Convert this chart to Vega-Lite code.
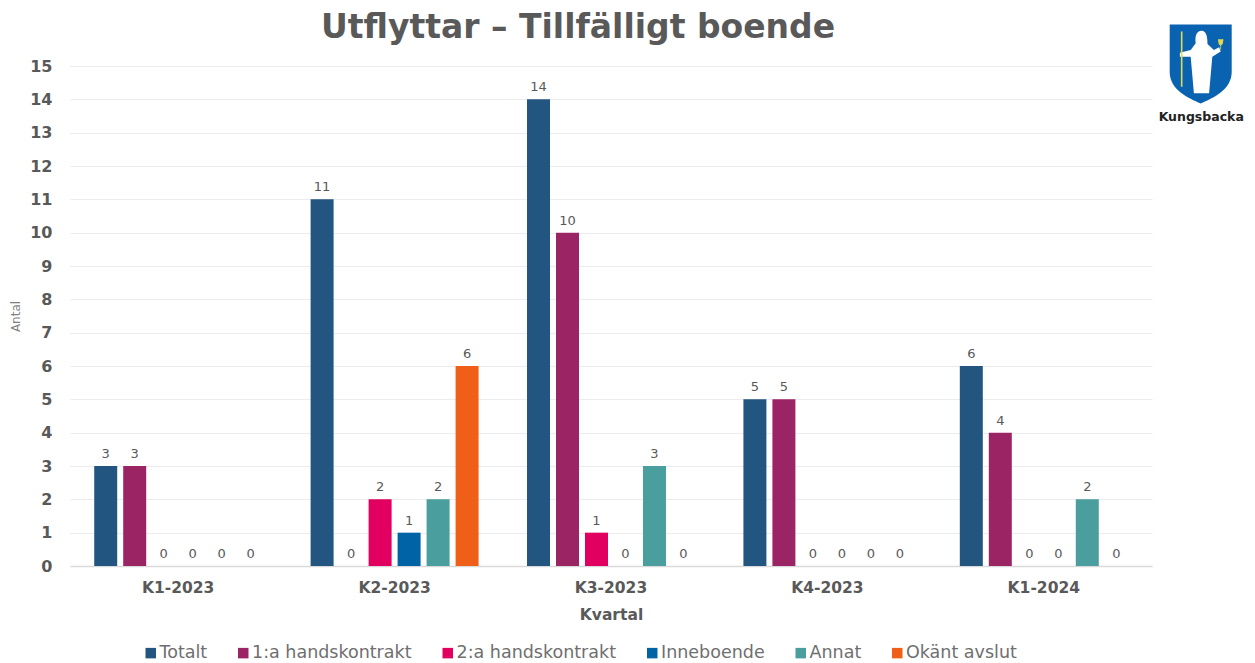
{"$schema":"https://vega.github.io/schema/vega-lite/v6.json","width":1082,"height":500,"autosize":{"type":"none"},"padding":{"left":70,"top":66,"right":103,"bottom":97},"background":"white","title":{"text":"Utflyttar – Tillfälligt boende","anchor":"middle","frame":"group","dx":-33,"offset":-21,"font":"DejaVu Sans","fontSize":33,"fontWeight":700,"color":"#595959"},"config":{"view":{"stroke":null},"font":"DejaVu Sans"},"datasets":{"main":[{"kvartal":"K1-2023","typ":"Totalt","antal":3},{"kvartal":"K1-2023","typ":"1:a handskontrakt","antal":3},{"kvartal":"K1-2023","typ":"2:a handskontrakt","antal":0},{"kvartal":"K1-2023","typ":"Inneboende","antal":0},{"kvartal":"K1-2023","typ":"Annat","antal":0},{"kvartal":"K1-2023","typ":"Okänt avslut","antal":0},{"kvartal":"K2-2023","typ":"Totalt","antal":11},{"kvartal":"K2-2023","typ":"1:a handskontrakt","antal":0},{"kvartal":"K2-2023","typ":"2:a handskontrakt","antal":2},{"kvartal":"K2-2023","typ":"Inneboende","antal":1},{"kvartal":"K2-2023","typ":"Annat","antal":2},{"kvartal":"K2-2023","typ":"Okänt avslut","antal":6},{"kvartal":"K3-2023","typ":"Totalt","antal":14},{"kvartal":"K3-2023","typ":"1:a handskontrakt","antal":10},{"kvartal":"K3-2023","typ":"2:a handskontrakt","antal":1},{"kvartal":"K3-2023","typ":"Inneboende","antal":0},{"kvartal":"K3-2023","typ":"Annat","antal":3},{"kvartal":"K3-2023","typ":"Okänt avslut","antal":0},{"kvartal":"K4-2023","typ":"Totalt","antal":5},{"kvartal":"K4-2023","typ":"1:a handskontrakt","antal":5},{"kvartal":"K4-2023","typ":"2:a handskontrakt","antal":0},{"kvartal":"K4-2023","typ":"Inneboende","antal":0},{"kvartal":"K4-2023","typ":"Annat","antal":0},{"kvartal":"K4-2023","typ":"Okänt avslut","antal":0},{"kvartal":"K1-2024","typ":"Totalt","antal":6},{"kvartal":"K1-2024","typ":"1:a handskontrakt","antal":4},{"kvartal":"K1-2024","typ":"2:a handskontrakt","antal":0},{"kvartal":"K1-2024","typ":"Inneboende","antal":0},{"kvartal":"K1-2024","typ":"Annat","antal":2},{"kvartal":"K1-2024","typ":"Okänt avslut","antal":0}],"logo":[{"px":1.045,"py":15.06}],"logotext":[{"px":1.0455,"py":13.47,"namn":"Kungsbacka"}]},"layer":[{"data":{"name":"main"},"encoding":{"x":{"field":"kvartal","type":"nominal","sort":["K1-2023","K2-2023","K3-2023","K4-2023","K1-2024"],"scale":{"paddingInner":0,"paddingOuter":0},"axis":{"title":"Kvartal","titleFont":"DejaVu Sans","titleFontSize":15.5,"titleFontWeight":700,"titleColor":"#595959","titlePadding":12,"labelAngle":0,"labelFont":"DejaVu Sans","labelFontSize":15.5,"labelFontWeight":700,"labelColor":"#595959","labelPadding":14,"ticks":false,"grid":false,"domainColor":"#d9d9d9","domainWidth":1.5}},"y":{"field":"antal","type":"quantitative","scale":{"domain":[0,15],"nice":false},"axis":{"title":"Antal","titleFont":"DejaVu Sans","titleFontSize":12,"titleFontWeight":400,"titleColor":"#7f7f7f","titlePadding":7,"values":[0,1,2,3,4,5,6,7,8,9,10,11,12,13,14,15],"labelOverlap":false,"labelFont":"DejaVu Sans","labelFontSize":16,"labelFontWeight":700,"labelColor":"#595959","labelPadding":18,"ticks":false,"domain":false,"grid":true,"gridColor":"#ececec","gridWidth":1}},"xOffset":{"field":"typ","type":"nominal","sort":["Totalt","1:a handskontrakt","2:a handskontrakt","Inneboende","Annat","Okänt avslut"],"scale":{"paddingInner":0.207,"paddingOuter":0.835}}},"layer":[{"mark":{"type":"bar"},"encoding":{"color":{"field":"typ","type":"nominal","scale":{"domain":["Totalt","1:a handskontrakt","2:a handskontrakt","Inneboende","Annat","Okänt avslut"],"range":["#22557f","#9b2564","#e1005f","#0063a6","#4b9e9e","#ef5f17"]},"legend":{"title":null,"orient":"none","legendX":72,"legendY":578,"direction":"horizontal","columns":6,"symbolType":"square","symbolSize":110,"symbolStrokeWidth":0,"labelFont":"DejaVu Sans","labelFontSize":17.5,"labelColor":"#6f6f6f","labelOffset":0,"columnPadding":26.5}}}},{"mark":{"type":"text","dy":-12,"font":"DejaVu Sans","fontSize":13,"color":"#595959"},"encoding":{"text":{"field":"antal","type":"quantitative"}}}]},{"data":{"name":"logo"},"encoding":{"x":{"field":"px","type":"quantitative","scale":{"domain":[0,1]},"axis":null},"y":{"field":"py","type":"quantitative","scale":{"domain":[0,15],"nice":false},"axis":null}},"layer":[{"mark":{"type":"point","filled":true,"opacity":1,"size":6400,"color":"#0a63b0","strokeWidth":0,"shape":"M-0.775,-0.99 L0.775,-0.99 L0.775,0.2 C0.775,0.65 0.3,0.85 0,0.99 C-0.3,0.85 -0.775,0.65 -0.775,0.2 Z"}},{"mark":{"type":"point","filled":true,"opacity":1,"size":6400,"color":"#ffffff","strokeWidth":0,"shape":"M0.02,-0.83 C0.15,-0.83 0.17,-0.65 0.17,-0.5 L0.33,-0.35 L0.46,-0.42 L0.5,-0.31 L0.29,-0.18 L0.21,0.73 L-0.17,0.73 L-0.25,-0.18 L-0.52,-0.18 L-0.52,-0.28 L-0.25,-0.35 L-0.125,-0.52 C-0.15,-0.7 -0.1,-0.83 0.02,-0.83 Z"}},{"mark":{"type":"point","filled":true,"opacity":1,"size":6400,"color":"#e3d94a","strokeWidth":0,"shape":"M-0.495,-0.81 L-0.455,-0.81 L-0.455,0.57 L-0.495,0.57 Z M0.43,-0.62 L0.57,-0.62 L0.55,-0.5 L0.51,-0.46 L0.51,-0.36 L0.49,-0.36 L0.49,-0.46 L0.45,-0.5 Z"}}]},{"data":{"name":"logotext"},"mark":{"type":"text","font":"DejaVu Sans","fontSize":12.5,"fontWeight":700,"color":"#222222","align":"center","baseline":"middle"},"encoding":{"x":{"field":"px","type":"quantitative","scale":{"domain":[0,1]},"axis":null},"y":{"field":"py","type":"quantitative","scale":{"domain":[0,15],"nice":false},"axis":null},"text":{"field":"namn","type":"nominal"}}}],"resolve":{"scale":{"x":"independent"},"axis":{"x":"independent","y":"independent"}}}
